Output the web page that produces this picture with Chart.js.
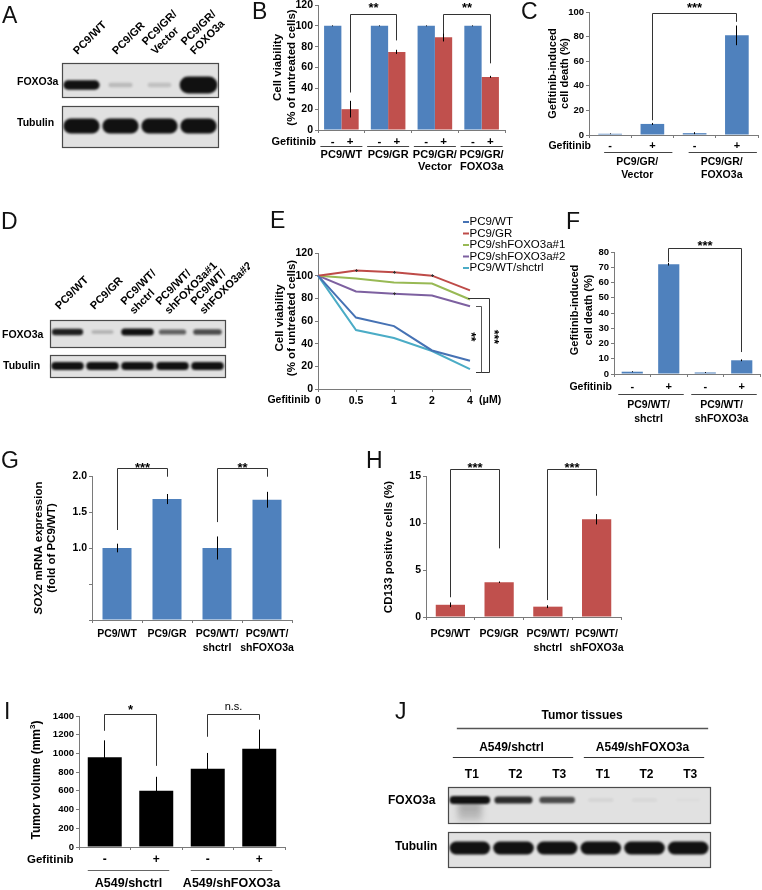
<!DOCTYPE html>
<html>
<head>
<meta charset="utf-8">
<script src="https://cdn.jsdelivr.net/npm/chart.js@4.4.1/dist/chart.umd.min.js"></script>
<style>
html,body{margin:0;padding:0;background:#fff;}
#page{position:relative;width:762px;height:890px;overflow:hidden;background:#fff;font-family:'Liberation Sans',Arial,sans-serif;}
#page canvas{position:absolute;}
.plet{position:absolute;font-size:23px;line-height:23px;font-weight:normal;color:#111;white-space:nowrap;}
</style>
</head>
<body>
<div id="page"></div>
<script>
// ================= DATA =================
// A: western blot, relative band density
const aLanes = [['PC9/WT'], ['PC9/GR'], ['PC9/GR/', 'Vector'], ['PC9/GR/', 'FOXO3a']];
const aFoxo3a = [1.0, 0.18, 0.15, 2.2];
const aTubulin = [1.0, 1.0, 1.0, 1.0];
// B: cell viability (% of untreated cells)
const bGroups = [['PC9/WT'], ['PC9/GR'], ['PC9/GR/', 'Vector'], ['PC9/GR/', 'FOXO3a']];
const bUntreated = [100, 100, 100, 100];
const bUntreatedErr = [0.4, 0.4, 0.4, 0.4];
const bGefitinib = [20, 75, 89, 51];
const bGefitinibErr = [8, 2, 4, 1];
const bSig = ['**', '**'];
// C: gefitinib-induced cell death (%)
const cSigns = ['-', '+', '-', '+'];
const cGroups = [['PC9/GR/', 'Vector'], ['PC9/GR/', 'FOXO3a']];
const cDeath = [1.0, 9.0, 1.5, 81];
const cDeathErr = [0.3, 0.8, 0.8, 8];
const cSig = ['***'];
// D: western blot
const dLanes = [['PC9/WT'], ['PC9/GR'], ['PC9/WT/', 'shctrl'], ['PC9/WT/', 'shFOXO3a#1'], ['PC9/WT/', 'shFOXO3a#2']];
const dFoxo3a = [0.9, 0.22, 1.0, 0.6, 0.7];
const dTubulin = [1.0, 1.0, 1.0, 1.0, 1.0];
// E: dose response
const eDoses = ['0', '0.5', '1', '2', '4'];
const eSeriesNames = ['PC9/WT', 'PC9/GR', 'PC9/shFOXO3a#1', 'PC9/shFOXO3a#2', 'PC9/WT/shctrl'];
const eWT = [100, 63, 55.5, 34, 25];
const eGR = [100, 104.5, 103, 100, 87];
const eSh1 = [100, 97.5, 94, 93, 79];
const eSh2 = [100, 86, 84, 82.5, 73];
const eShctrl = [100, 52, 45, 33.5, 17.5];
const eGRErr = [0, 1.2, 1.2, 1.2, 0];
const eSh2Err = [0, 0, 1.2, 0, 0];
const eSig = ['**', '***'];
// F: gefitinib-induced cell death (%)
const fSigns = ['-', '+', '-', '+'];
const fGroups = [['PC9/WT/', 'shctrl'], ['PC9/WT/', 'shFOXO3a']];
const fDeath = [1.5, 72, 1.0, 9];
const fDeathErr = [0.3, 0.9, 0.3, 0.6];
const fSig = ['***'];
// G: SOX2 mRNA expression (fold of PC9/WT)
const gCategories = [['PC9/WT'], ['PC9/GR'], ['PC9/WT/', 'shctrl'], ['PC9/WT/', 'shFOXO3a']];
const gSox2 = [1.0, 1.68, 1.0, 1.67];
const gSox2Err = [0.06, 0.07, 0.16, 0.11];
const gSig = ['***', '**'];
// H: CD133 positive cells (%)
const hCategories = [['PC9/WT'], ['PC9/GR'], ['PC9/WT/', 'shctrl'], ['PC9/WT/', 'shFOXO3a']];
const hCD133 = [1.3, 3.7, 1.1, 10.4];
const hCD133Err = [0.25, 0.08, 0.15, 0.55];
const hSig = ['***', '***'];
// I: tumor volume (mm3)
const iSigns = ['-', '+', '-', '+'];
const iGroups = ['A549/shctrl', 'A549/shFOXO3a'];
const iVolume = [960, 600, 835, 1050];
const iVolumeErr = [180, 150, 170, 205];
const iSig = ['*', 'n.s.'];
// J: western blot of tumor tissues
const jLanes = ['T1', 'T2', 'T3', 'T1', 'T2', 'T3'];
const jGroups = ['A549/shctrl', 'A549/shFOXO3a'];
const jFoxo3a = [1.0, 0.85, 0.7, 0.07, 0.05, 0.02];
const jTubulin = [1.0, 1.0, 1.0, 1.0, 1.0, 1.0];
// panel letters
const panelLetters = ['A', 'B', 'C', 'D', 'E', 'F', 'G', 'H', 'I', 'J'];

// ================= HELPERS =================
const FONT = "'Liberation Sans', Arial, Helvetica, sans-serif";
const BLUE = '#4F81BD', RED = '#C0504D', BLACK = '#000000';
const AXIS = '#7a7a7a';
Chart.defaults.font.family = FONT;
Chart.defaults.color = '#000';
Chart.defaults.animation = false;
const page = document.getElementById('page');

function mkCanvas(l, t, w, h) {
  const c = document.createElement('canvas');
  c.width = w; c.height = h;
  c.style.left = l + 'px'; c.style.top = t + 'px';
  c.style.width = w + 'px'; c.style.height = h + 'px';
  page.appendChild(c);
  return c;
}
function T(ctx, s, x, y, o = {}) {
  const size = o.size || 10.5, weight = o.weight || 'bold', style = o.style || 'normal';
  ctx.save();
  ctx.font = `${style} ${weight} ${size}px ${FONT}`;
  ctx.fillStyle = o.color || '#000';
  ctx.textAlign = o.align || 'center';
  ctx.textBaseline = o.base || 'middle';
  ctx.translate(x, y);
  if (o.rot) ctx.rotate(o.rot);
  ctx.fillText(s, 0, 0);
  ctx.restore();
}
function star(ctx, s, x, cy, size = 13, rot = 0) {
  ctx.save();
  ctx.font = `bold ${size}px ${FONT}`;
  ctx.fillStyle = '#000'; ctx.textAlign = 'center'; ctx.textBaseline = 'alphabetic';
  ctx.translate(x, cy); if (rot) ctx.rotate(rot);
  ctx.fillText(s, 0, 0.575 * size);
  ctx.restore();
}
function snap(v) { return Math.round(v - 0.5) + 0.5; }
function poly(ctx, pts, color = '#333', w = 1) {
  ctx.save(); ctx.strokeStyle = color; ctx.lineWidth = w; ctx.beginPath();
  pts.forEach(([x, y], i) => i ? ctx.lineTo(x, y) : ctx.moveTo(x, y));
  ctx.stroke(); ctx.restore();
}
function hline(ctx, x1, x2, y, color = '#444', w = 1) { poly(ctx, [[x1, snap(y)], [x2, snap(y)]], color, w); }
function title2(ctx, lines, xs, cy, size) {
  lines.forEach((s, k) => T(ctx, s, xs[k], cy, { size, rot: -Math.PI / 2 }));
}
function rich(ctx, segs, x, cy, size) {
  ctx.save();
  ctx.translate(x, cy); ctx.rotate(-Math.PI / 2);
  ctx.textBaseline = 'middle'; ctx.textAlign = 'left'; ctx.fillStyle = '#000';
  let total = 0;
  segs.forEach(([s, st]) => { ctx.font = `${st} ${size}px ${FONT}`; total += ctx.measureText(s).width; });
  let cx = -total / 2;
  segs.forEach(([s, st]) => { ctx.font = `${st} ${size}px ${FONT}`; ctx.fillText(s, cx, 0); cx += ctx.measureText(s).width; });
  ctx.restore();
}

// generic bar panel
function barPanel(cfg) {
  const [l, t, w, h] = cfg.rect, [x0, yT, xR, yB] = cfg.area;
  const c = mkCanvas(l, t, w, h);
  return new Chart(c, {
    type: 'bar',
    data: {
      labels: cfg.labels,
      datasets: cfg.datasets.map(d => ({ data: d.data, backgroundColor: d.color, borderWidth: 0,
        barPercentage: cfg.barPct, categoryPercentage: cfg.catPct }))
    },
    options: {
      responsive: false, animation: false, events: [],
      layout: { padding: { left: 0, right: (l + w) - xR, top: yT - t, bottom: 0 } },
      plugins: { legend: { display: false }, tooltip: { enabled: false } },
      scales: {
        x: { ticks: { display: false },
             grid: { display: true, drawOnChartArea: false, drawTicks: true, tickLength: 3, color: AXIS, offset: true },
             border: { display: true, color: AXIS, width: 1 },
             afterFit: s => { s.height = (t + h) - yB; } },
        y: { min: 0, max: cfg.yMax,
             ticks: { stepSize: cfg.step, color: '#000', font: { size: cfg.tickSize || 10, weight: 'bold', family: FONT },
                      padding: 2, callback: cfg.tickCb || (v => v) },
             grid: { display: true, drawOnChartArea: false, drawTicks: true, tickLength: 3, color: AXIS },
             border: { display: true, color: AXIS, width: 1 },
             afterFit: s => { s.width = x0 - l; } }
      }
    },
    plugins: [{
      id: 'ann',
      afterDatasetsDraw(ch) {
        const ctx = ch.ctx, xs = ch.scales.x, ys = ch.scales.y;
        const u = {
          X: p => p - l, Y: p => p - t,
          vy: v => ys.getPixelForValue(v),
          cx: i => xs.getPixelForValue(i),
          bx: (d, i) => ch.getDatasetMeta(d).data[i].x,
        };
        u.bracket = (xL, xR2, top, lb, rb, label, dy, ns) => {
          const a = snap(xL), b = snap(xR2), yt = snap(u.vy(top));
          poly(ctx, [[a, u.vy(lb)], [a, yt], [b, yt], [b, u.vy(rb)]], '#333', 1);
          if (ns) T(ctx, label, (a + b) / 2, yt - dy, { size: 11, weight: 'normal' });
          else star(ctx, label, (a + b) / 2, yt - dy, 13);
        };
        cfg.datasets.forEach((d, di) => {
          if (!d.err) return;
          d.data.forEach((v, i) => {
            const e = d.err[i]; if (!e) return;
            const x = snap(u.bx(di, i));
            poly(ctx, [[x, u.vy(v + e)], [x, u.vy(v - e)]], '#000', 1);
          });
        });
        cfg.draw(ch, ctx, u);
      }
    }]
  });
}

// western blot panel
function band(ctx, cx, cy, lw, base, v, blur) {
  if (v <= 0) return;
  const a = Math.min(0.97, v);
  const bw = lw * (0.55 + 0.38 * Math.min(v, 1.1));
  const bh = base * (0.35 + 0.65 * v);
  ctx.save();
  ctx.filter = `blur(${blur}px)`;
  ctx.fillStyle = `rgba(10,10,10,${a})`;
  ctx.beginPath();
  ctx.roundRect(cx - bw / 2, cy - bh / 2, bw, bh, bh / 2);
  ctx.fill();
  ctx.restore();
}
function blotPanel(cfg) {
  const [l, t, w, h] = cfg.rect;
  const c = mkCanvas(l, t, w, h);
  return new Chart(c, {
    type: 'bar',
    data: { labels: cfg.lanes.map((_, i) => 'lane' + i),
            datasets: [{ data: cfg.lanes.map(() => 0), backgroundColor: 'rgba(0,0,0,0)' }] },
    options: {
      responsive: false, animation: false, events: [],
      layout: { padding: { left: cfg.x0 - l, right: (l + w) - cfg.x1, top: 0, bottom: 0 } },
      plugins: { legend: { display: false }, tooltip: { enabled: false } },
      scales: { x: { display: false, offset: true }, y: { display: false, min: 0, max: 1 } }
    },
    plugins: [{
      id: 'blot',
      afterDraw(ch) {
        const ctx = ch.ctx, xs = ch.scales.x;
        ctx.save(); ctx.translate(-l, -t);
        const lx = i => xs.getPixelForValue(i) + l;
        const lw = xs.getPixelForValue(1) - xs.getPixelForValue(0);
        cfg.rows.forEach(r => {
          ctx.fillStyle = '#e1e1e1';
          ctx.fillRect(cfg.x0, r.y0, cfg.x1 - cfg.x0, r.y1 - r.y0);
          if (r.smear) r.smear(ctx, lx, lw);
          r.vals.forEach((v, i) => band(ctx, lx(i), r.cy, lw, r.base, v, r.blur || 1.3));
          ctx.strokeStyle = '#4a4a4a'; ctx.lineWidth = 1.2;
          ctx.strokeRect(cfg.x0 + 0.5, r.y0 + 0.5, cfg.x1 - cfg.x0, r.y1 - r.y0);
          T(ctx, r.label, r.lx, r.ly, { size: r.fs || 10.5, align: 'left' });
        });
        if (cfg.extra) cfg.extra(ctx, lx, lw);
        ctx.restore();
      }
    }]
  });
}
function laneLabels(ctx, lx, labels, top, dx, dy, fs, middle) {
  const lh = fs * 1.18;
  labels.forEach((lines, i) => {
    ctx.save();
    ctx.translate(lx(i) + dx, top + dy);
    ctx.rotate(-Math.PI / 4);
    ctx.font = `bold ${fs}px ${FONT}`; ctx.fillStyle = '#000';
    ctx.textAlign = 'left'; ctx.textBaseline = 'alphabetic';
    const n = lines.length;
    lines.forEach((s, k) => {
      const off = middle ? (k - (n - 1) / 2) * lh : -(n - 1 - k) * lh;
      ctx.fillText(s, 0, off);
    });
    ctx.restore();
  });
}

// ================= PANEL A =================
blotPanel({
  rect: [0, 0, 250, 180], x0: 62, x1: 218, lanes: aLanes,
  rows: [
    { label: 'FOXO3a', vals: aFoxo3a, y0: 63, y1: 97, cy: 85, base: 9.5, lx: 17, ly: 82 },
    { label: 'Tubulin', vals: aTubulin, y0: 106, y1: 147, cy: 126, base: 15, lx: 17, ly: 123 }
  ],
  extra(ctx, lx) { laneLabels(ctx, lx, aLanes, 63, -4, -8, 11, false); }
});

// ================= PANEL B =================
barPanel({
  rect: [250, -5, 262, 185], area: [318, 5, 505, 130], yMax: 120, step: 20, tickSize: 10.5,
  labels: bGroups.map(g => g.join(' ')),
  datasets: [{ data: bUntreated, err: bUntreatedErr, color: BLUE }, { data: bGefitinib, err: bGefitinibErr, color: RED }],
  catPct: 0.74, barPct: 1.0,
  draw(ch, ctx, u) {
    title2(ctx, ['Cell viability', '(% of untreated cells)'], [u.X(278), u.X(292)], u.Y(67.5), 11.5);
    T(ctx, 'Gefitinib', u.X(316), u.Y(142), { size: 11, align: 'right' });
    bGroups.forEach((g, i) => {
      T(ctx, '-', u.bx(0, i), u.Y(142), { size: 11.5 }); T(ctx, '+', u.bx(1, i), u.Y(142), { size: 11.5 });
      const c = u.cx(i); hline(ctx, c - 21, c + 21, u.Y(146));
      g.forEach((s, k) => T(ctx, s, c, u.Y(155 + 12 * k), { size: 11 }));
    });
    u.bracket(u.bx(1, 0), u.bx(1, 1), 110.4, 36, 86, bSig[0], 10);
    u.bracket(u.bx(1, 2), u.bx(1, 3), 110.4, 93, 64, bSig[1], 10);
  }
});

// ================= PANEL C =================
barPanel({
  rect: [512, -5, 250, 190], area: [589, 12, 758, 135], yMax: 100, step: 10, tickSize: 9.5,
  labels: cSigns.map((s, i) => s + i),
  datasets: [{ data: cDeath, err: cDeathErr, color: BLUE }],
  catPct: 1.0, barPct: 0.56,
  draw(ch, ctx, u) {
    title2(ctx, ['Gefitinib-induced', 'cell death (%)'], [u.X(553), u.X(565)], u.Y(73.5), 11);
    T(ctx, 'Gefitinib', u.X(591), u.Y(146), { size: 10.5, align: 'right' });
    cSigns.forEach((s, i) => T(ctx, s, u.bx(0, i), u.Y(146), { size: 11 }));
    cGroups.forEach((g, gi) => {
      const a = u.cx(2 * gi), b = u.cx(2 * gi + 1);
      hline(ctx, a - 6, b + 20, u.Y(152));
      g.forEach((s, k) => T(ctx, s, (a + b) / 2 + 6, u.Y(162 + 13 * k), { size: 10.5 }));
    });
    u.bracket(u.bx(0, 1), u.bx(0, 3), 98.4, 12, 92, cSig[0], 9);
  }
});

// ================= PANEL D =================
blotPanel({
  rect: [0, 190, 250, 200], x0: 50, x1: 225, lanes: dLanes,
  rows: [
    { label: 'FOXO3a', vals: dFoxo3a, y0: 320, y1: 347, cy: 332, base: 7, lx: 2, ly: 335 },
    { label: 'Tubulin', vals: dTubulin, y0: 355, y1: 377, cy: 366, base: 8, lx: 3, ly: 366 }
  ],
  extra(ctx, lx) { laneLabels(ctx, lx, dLanes, 320, -8, -10, 11, true); }
});

// ================= PANEL E =================
(function () {
  const l = 250, t = 200, w = 320, h = 212;
  const x0 = 318, yT = 253, xR = 470, yB = 389;
  const c = mkCanvas(l, t, w, h);
  const cols = ['#4672B4', '#BE4B48', '#98B954', '#7D60A0', '#4BACC6'];
  const series = [eWT, eGR, eSh1, eSh2, eShctrl];
  const errs = [null, eGRErr, null, eSh2Err, null];
  new Chart(c, {
    type: 'line',
    data: { labels: eDoses, datasets: series.map((d, i) => ({ label: eSeriesNames[i], data: d, borderColor: cols[i],
      backgroundColor: cols[i], borderWidth: 2, pointRadius: 0, tension: 0, fill: false })) },
    options: {
      responsive: false, animation: false, events: [],
      layout: { padding: { left: 0, right: (l + w) - xR, top: yT - t, bottom: 0 } },
      plugins: { legend: { display: false }, tooltip: { enabled: false } },
      scales: {
        x: { offset: false,
             ticks: { color: '#000', font: { size: 10.5, weight: 'bold', family: FONT }, padding: 3, maxRotation: 0, autoSkip: false },
             grid: { display: true, drawOnChartArea: false, drawTicks: true, tickLength: 3, color: AXIS, offset: false },
             border: { display: true, color: AXIS },
             afterFit: s => { s.height = (t + h) - yB; } },
        y: { min: 0, max: 120,
             ticks: { stepSize: 20, color: '#000', font: { size: 10.5, weight: 'bold', family: FONT }, padding: 2 },
             grid: { display: true, drawOnChartArea: false, drawTicks: true, tickLength: 3, color: AXIS },
             border: { display: true, color: AXIS },
             afterFit: s => { s.width = x0 - l; } }
      }
    },
    plugins: [{
      id: 'eann',
      afterDatasetsDraw(ch) {
        const ctx = ch.ctx, xs = ch.scales.x, ys = ch.scales.y;
        const X = p => p - l, Y = p => p - t, vy = v => ys.getPixelForValue(v);
        errs.forEach((er, si) => {
          if (!er) return;
          er.forEach((e, i) => {
            if (!e) return;
            const x = snap(xs.getPixelForValue(i)), v = series[si][i];
            poly(ctx, [[x, vy(v + e)], [x, vy(v - e)]], '#333', 1);
            poly(ctx, [[x - 1.5, snap(vy(v))], [x + 1.5, snap(vy(v))]], '#333', 1);
          });
        });
        // legend
        eSeriesNames.forEach((s, i) => {
          const y = Y(222 + 11.5 * i);
          poly(ctx, [[X(463), y], [X(469), y]], cols[i], 2);
          T(ctx, s, X(469.5), y, { size: 11.5, weight: 'normal', align: 'left' });
        });
        // brackets
        const outer = snap(X(489)), inner = snap(X(481));
        poly(ctx, [[X(468), snap(vy(80))], [outer, snap(vy(80))], [outer, snap(vy(15))], [X(476), snap(vy(15))]], '#333', 1);
        poly(ctx, [[X(476), snap(vy(73))], [inner, snap(vy(73))], [inner, snap(vy(15))]], '#555', 1);
        star(ctx, eSig[0], X(474), vy(46), 12, Math.PI / 2);
        star(ctx, eSig[1], X(497), vy(46), 12, Math.PI / 2);
        // titles
        title2(ctx, ['Cell viability', '(% of untreated cells)'], [X(280), X(292)], Y(318), 11.5);
        T(ctx, 'Gefitinib', X(310), Y(400), { size: 10.5, align: 'right' });
        T(ctx, '(\u03BCM)', X(479), Y(400), { size: 10.5, align: 'left' });
      }
    }]
  });
})();

// ================= PANEL F =================
barPanel({
  rect: [560, 200, 202, 230], area: [614, 252, 760, 374], yMax: 80, step: 10, tickSize: 9.5,
  labels: fSigns.map((s, i) => s + i),
  datasets: [{ data: fDeath, err: fDeathErr, color: BLUE }],
  catPct: 1.0, barPct: 0.58,
  draw(ch, ctx, u) {
    title2(ctx, ['Gefitinib-induced', 'cell death (%)'], [u.X(575), u.X(589)], u.Y(310), 11);
    T(ctx, 'Gefitinib', u.X(612), u.Y(387), { size: 10.5, align: 'right' });
    fSigns.forEach((s, i) => T(ctx, s, u.bx(0, i), u.Y(387), { size: 11 }));
    fGroups.forEach((g, gi) => {
      const a = u.cx(2 * gi), b = u.cx(2 * gi + 1);
      hline(ctx, a - 14, b + 15, u.Y(394));
      g.forEach((s, k) => T(ctx, s, (a + b) / 2 - 2, u.Y(405 + 14 * k), { size: 10.5 }));
    });
    u.bracket(u.bx(0, 1), u.bx(0, 3), 82, 73.5, 14.4, fSig[0], 6);
  }
});

// ================= PANEL G =================
barPanel({
  rect: [0, 440, 310, 220], area: [92, 476, 292, 620], yMax: 2.0, step: 0.5, tickSize: 10.5,
  tickCb: v => (v >= 1 ? v.toFixed(1) : ''),
  labels: gCategories.map(g => g.join(' ')),
  datasets: [{ data: gSox2, err: gSox2Err, color: BLUE }],
  catPct: 1.0, barPct: 0.58,
  draw(ch, ctx, u) {
    rich(ctx, [['SOX2', 'italic bold'], [' mRNA expression', 'bold']], u.X(39), u.Y(548), 11.5);
    T(ctx, '(fold of PC9/WT)', u.X(52), u.Y(548), { size: 11.5, rot: -Math.PI / 2 });
    gCategories.forEach((g, i) => g.forEach((s, k) => T(ctx, s, u.cx(i), u.Y(634 + 14 * k), { size: 10.5 })));
    u.bracket(u.bx(0, 0), u.bx(0, 1), 2.11, 1.25, 1.99, gSig[0], 4);
    u.bracket(u.bx(0, 2), u.bx(0, 3), 2.11, 1.36, 1.99, gSig[1], 4);
  }
});

// ================= PANEL H =================
barPanel({
  rect: [370, 440, 392, 220], area: [426, 476, 621, 617], yMax: 15, step: 5, tickSize: 10.5,
  labels: hCategories.map(g => g.join(' ')),
  datasets: [{ data: hCD133, err: hCD133Err, color: RED }],
  catPct: 1.0, barPct: 0.6,
  draw(ch, ctx, u) {
    T(ctx, 'CD133 positive cells (%)', u.X(389), u.Y(547), { size: 11.5, rot: -Math.PI / 2 });
    hCategories.forEach((g, i) => g.forEach((s, k) => T(ctx, s, u.cx(i), u.Y(634 + 14 * k), { size: 10.5 })));
    u.bracket(u.bx(0, 0), u.bx(0, 1), 15.7, 2.1, 7.3, hSig[0], 5);
    u.bracket(u.bx(0, 2), u.bx(0, 3), 15.7, 1.8, 12.9, hSig[1], 5);
  }
});

// ================= PANEL I =================
barPanel({
  rect: [0, 690, 300, 200], area: [79, 716, 285, 847], yMax: 1400, step: 200, tickSize: 9.5,
  labels: iSigns.map((s, i) => s + i),
  datasets: [{ data: iVolume, err: iVolumeErr, color: BLACK }],
  catPct: 1.0, barPct: 0.66,
  draw(ch, ctx, u) {
    ctx.save();
    ctx.translate(u.X(37), u.Y(780)); ctx.rotate(-Math.PI / 2);
    ctx.fillStyle = '#000'; ctx.textBaseline = 'middle'; ctx.textAlign = 'left';
    const p1 = 'Tumor volume (mm', p2 = '3', p3 = ')';
    ctx.font = `bold 12px ${FONT}`;
    const w1 = ctx.measureText(p1).width, w3 = ctx.measureText(p3).width;
    ctx.font = `bold 8px ${FONT}`; const w2 = ctx.measureText(p2).width;
    let x = -(w1 + w2 + w3) / 2;
    ctx.font = `bold 12px ${FONT}`; ctx.fillText(p1, x, 0); x += w1;
    ctx.font = `bold 8px ${FONT}`; ctx.fillText(p2, x, -4); x += w2;
    ctx.font = `bold 12px ${FONT}`; ctx.fillText(p3, x, 0);
    ctx.restore();
    T(ctx, 'Gefitinib', u.X(27), u.Y(860), { size: 11.5, align: 'left' });
    iSigns.forEach((s, i) => T(ctx, s, u.bx(0, i), u.Y(860), { size: 12 }));
    iGroups.forEach((g, gi) => {
      const a = u.cx(2 * gi), b = u.cx(2 * gi + 1);
      hline(ctx, a - 17, b + 13, u.Y(870), '#666');
      T(ctx, g, (a + b) / 2 - 2, u.Y(884), { size: 12.5 });
    });
    u.bracket(u.bx(0, 0), u.bx(0, 1), 1413, 1242, 867, iSig[0], 8);
    u.bracket(u.bx(0, 2), u.bx(0, 3), 1413, 1178, 1360, iSig[1], 8, true);
  }
});

// ================= PANEL J =================
blotPanel({
  rect: [330, 690, 432, 200], x0: 448, x1: 710, lanes: jLanes,
  rows: [
    { label: 'FOXO3a', vals: jFoxo3a, y0: 787, y1: 823, cy: 800, base: 8, lx: 388, ly: 801, fs: 12,
      smear(ctx, lx, lw) {
        ctx.save(); ctx.filter = 'blur(3px)';
        const g = ctx.createLinearGradient(0, 800, 0, 823);
        g.addColorStop(0, 'rgba(30,30,30,0.35)'); g.addColorStop(1, 'rgba(30,30,30,0.12)');
        ctx.fillStyle = g;
        ctx.fillRect(lx(0) - 12, 802, 24, 19); ctx.restore();
      } },
    { label: 'Tubulin', vals: jTubulin, y0: 832, y1: 867, cy: 848, base: 13, lx: 395, ly: 847, fs: 12 }
  ],
  extra(ctx, lx) {
    T(ctx, 'Tumor tissues', 582, 716, { size: 12 });
    hline(ctx, lx(0) - 13, lx(5) + 20, 728, '#555', 1.5);
    jGroups.forEach((g, gi) => {
      const a = lx(3 * gi), b = lx(3 * gi + 2);
      T(ctx, g, (a + b) / 2 - 2, 748, { size: 12 });
      hline(ctx, a - 17, b + 16, 757, '#333', 1.2);
    });
    jLanes.forEach((s, i) => T(ctx, s, lx(i) + 2, 775, { size: 12 }));
  }
});

// ================= PANEL LETTERS =================
const letterPos = [[2, 7], [252, 3], [521, 3], [1, 213], [270, 212], [566, 213], [1, 452], [366, 452], [4, 703], [395, 703]];
panelLetters.forEach((s, i) => {
  const d = document.createElement('div');
  d.className = 'plet'; d.textContent = s;
  d.style.left = letterPos[i][0] + 'px'; d.style.top = (letterPos[i][1] - 3) + 'px';
  page.appendChild(d);
});
</script>
</body>
</html>
